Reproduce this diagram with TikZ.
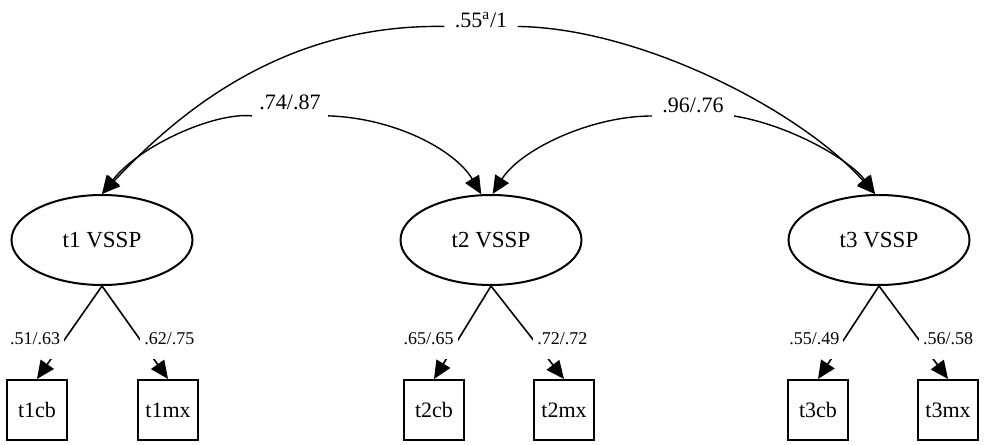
\documentclass[tikz,border=0pt]{standalone}
\usepackage{fontspec}
\setmainfont{Liberation Serif}
\usetikzlibrary{arrows.meta,shapes.geometric}
\tikzset{
  latentbox/.style={draw,ellipse,line width=1pt,minimum width=90.5pt,
    minimum height=45pt,inner sep=0pt,font=\fontsize{11.5}{13}\selectfont},
  indicatorbox/.style={draw,rectangle,line width=1pt,minimum size=30pt,
    inner sep=0pt,font=\fontsize{11}{13}\selectfont},
  loadingarrow/.style={-{Triangle[length=9pt,width=8pt]},line width=0.8pt},
  loadinglabel/.style={fill=white,inner xsep=2pt,inner ysep=0pt,
    minimum height=20pt,font=\fontsize{9}{11}\selectfont}
}

\begin{document}
\begin{tikzpicture}[x=0.5pt,y=-0.5pt,
  corrlabel/.style={inner xsep=5pt,inner ysep=3pt,font=\fontsize{11}{13}\selectfont},
  corrarrow/.style={-{Triangle[length=9pt,width=8pt]},line width=0.7pt}
]
  \useasboundingbox (0,0) rectangle (984,444);

  % latent factors
  \node[latentbox] (t1) at (102,240) {t1 VSSP};
  \node[latentbox] (t2) at (491,240) {t2 VSSP};
  \node[latentbox] (t3) at (879,240) {t3 VSSP};

  % indicators
  \node[indicatorbox] (t1cb) at (37,410) {t1cb};
  \node[indicatorbox] (t1mx) at (168,410) {t1mx};
  \node[indicatorbox] (t2cb) at (434,410) {t2cb};
  \node[indicatorbox] (t2mx) at (564,410) {t2mx};
  \node[indicatorbox] (t3cb) at (818,410) {t3cb};
  \node[indicatorbox] (t3mx) at (948,410) {t3mx};

  \draw[loadingarrow] (t1.south) -- node[loadinglabel,anchor=east,pos=.57] {.51/.63} (t1cb.north);
  \draw[loadingarrow] (t1.south) -- node[loadinglabel,anchor=west,pos=.57] {.62/.75} (t1mx.north);
  \draw[loadingarrow] (t2.south) -- node[loadinglabel,anchor=east,pos=.57] {.65/.65} (t2cb.north);
  \draw[loadingarrow] (t2.south) -- node[loadinglabel,anchor=west,pos=.57] {.72/.72} (t2mx.north);
  \draw[loadingarrow] (t3.south) -- node[loadinglabel,anchor=east,pos=.57] {.55/.49} (t3cb.north);
  \draw[loadingarrow] (t3.south) -- node[loadinglabel,anchor=west,pos=.57] {.56/.58} (t3mx.north);

  % correlations
  \node[corrlabel] (l13) at (481,20) {.55\textsuperscript{a}/1};
  \node[corrlabel] (l12) at (290,102) {.74/.87};
  \node[corrlabel] (l23) at (693,105) {.96/.76};

  \draw[corrarrow] (l13.190) .. controls (290,24) and (185,105) .. (t1.north);
  \draw[corrarrow] (l13.350) .. controls (640,28) and (800,110) .. (t3.95);
  \draw[corrarrow] (l12.200) .. controls (215,112) and (140,145) .. (t1.north);
  \draw[corrarrow] (l12.340) .. controls (395,118) and (455,150) .. (t2.102);
  \draw[corrarrow] (l23.195) .. controls (590,116) and (520,150) .. (t2.88);
  \draw[corrarrow] (l23.345) .. controls (790,125) and (850,160) .. (t3.95);
\end{tikzpicture}
\end{document}
